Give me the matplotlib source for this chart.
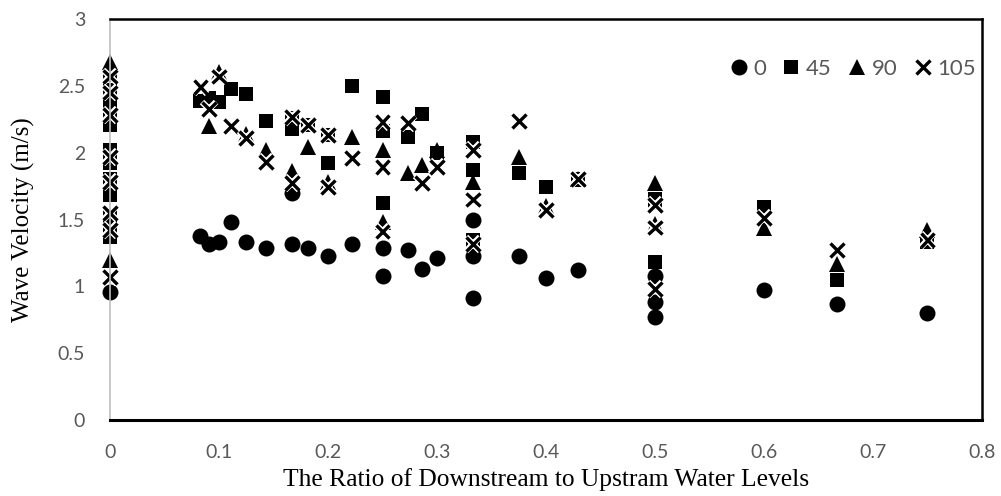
import matplotlib
matplotlib.use("Agg")
import matplotlib.pyplot as plt
import matplotlib.patheffects as pe

# ---- data ----
x0 = [0, 0.083, 0.091, 0.1, 0.111, 0.125, 0.143, 0.167, 0.167, 0.182, 0.2, 0.222,
      0.25, 0.25, 0.273, 0.286, 0.3, 0.333, 0.333, 0.333, 0.375, 0.4, 0.429,
      0.5, 0.5, 0.5, 0.6, 0.667, 0.75]
y0 = [0.96, 1.38, 1.32, 1.33, 1.48, 1.33, 1.29, 1.32, 1.70, 1.29, 1.23, 1.32,
      1.29, 1.08, 1.27, 1.13, 1.21, 1.50, 1.23, 0.91, 1.23, 1.06, 1.12,
      1.08, 0.88, 0.77, 0.97, 0.87, 0.80]

x45 = [0, 0, 0, 0, 0, 0, 0, 0, 0, 0, 0, 0,
       0.083, 0.091, 0.1, 0.111, 0.125, 0.143, 0.167, 0.167, 0.182, 0.2, 0.2, 0.222,
       0.25, 0.25, 0.25, 0.273, 0.286, 0.3, 0.333, 0.333, 0.333, 0.375, 0.4, 0.429,
       0.5, 0.5, 0.5, 0.6, 0.667, 0.75]
y45 = [2.58, 2.47, 2.37, 2.27, 2.21, 2.02, 1.92, 1.80, 1.68, 1.53, 1.43, 1.37,
       2.39, 2.41, 2.38, 2.48, 2.44, 2.24, 2.26, 2.18, 2.21, 2.13, 1.92, 2.50,
       2.42, 2.16, 1.62, 2.12, 2.29, 2.00, 2.08, 1.87, 1.35, 1.85, 1.74, 1.80,
       1.65, 1.62, 1.18, 1.59, 1.05, 1.33]

x90 = [0, 0, 0.091, 0.1, 0.125, 0.143, 0.167, 0.182, 0.2, 0.222, 0.25, 0.25,
       0.273, 0.286, 0.3, 0.333, 0.375, 0.4, 0.429, 0.5, 0.5, 0.6, 0.667, 0.75]
y90 = [2.68, 1.20, 2.20, 2.60, 2.14, 2.02, 1.86, 2.04, 1.78, 2.12, 2.02, 1.48,
       1.85, 1.91, 2.02, 1.78, 1.97, 1.60, 1.80, 1.77, 1.47, 1.44, 1.17, 1.42]

x105 = [0, 0, 0, 0, 0, 0, 0, 0,
        0.083, 0.091, 0.1, 0.111, 0.125, 0.143, 0.167, 0.167, 0.182, 0.2, 0.2, 0.222,
        0.25, 0.25, 0.25, 0.273, 0.286, 0.3, 0.333, 0.333, 0.333, 0.375, 0.4, 0.429,
        0.5, 0.5, 0.5, 0.6, 0.667, 0.75]
y105 = [2.57, 2.45, 2.28, 1.97, 1.78, 1.55, 1.42, 1.07,
        2.49, 2.33, 2.57, 2.20, 2.11, 1.93, 2.27, 1.77, 2.21, 2.13, 1.74, 1.96,
        2.23, 1.89, 1.41, 2.22, 1.77, 1.89, 2.02, 1.65, 1.32, 2.24, 1.57, 1.80,
        1.61, 1.44, 0.98, 1.51, 1.27, 1.35]

series_labels = ["0", "45", "90", "105"]
x_ticks = [0, 0.1, 0.2, 0.3, 0.4, 0.5, 0.6, 0.7, 0.8]
y_ticks = [0, 0.5, 1, 1.5, 2, 2.5, 3]

# ---- figure ----
fig = plt.figure(figsize=(10.01, 4.96), dpi=100)
ax = fig.add_axes([0.1099, 0.1532, 0.8711, 0.8085])

ax.plot(x0, y0, linestyle="none", marker="o", markersize=11.5, color="black",
        markeredgewidth=0, label=series_labels[0], clip_on=False)
ax.plot(x45, y45, linestyle="none", marker="s", markersize=10.5, color="black",
        markeredgewidth=0, label=series_labels[1], clip_on=False)
ax.plot(x90, y90, linestyle="none", marker="^", markersize=12, color="black",
        markeredgewidth=0, label=series_labels[2], clip_on=False)
ax.plot(x105, y105, linestyle="none", marker="x", markersize=10, color="black",
        markeredgewidth=2.4, label=series_labels[3], clip_on=False,
        path_effects=[pe.withStroke(linewidth=4.5, foreground="white")])

ax.set_xlim(0, 0.8)
ax.set_ylim(0, 3)
ax.set_xticks(x_ticks)
ax.set_xticklabels([f"{t:g}" for t in x_ticks])
ax.set_yticks(y_ticks)
ax.set_yticklabels([f"{t:g}" for t in y_ticks])

tick_color = "#595959"
ax.tick_params(axis="both", length=0, labelsize=14, labelcolor=tick_color)
ax.tick_params(axis="x", pad=17)
ax.tick_params(axis="y", pad=18)
for lab in ax.get_xticklabels() + ax.get_yticklabels():
    lab.set_fontfamily("Lato")

ax.spines["left"].set_color("#bfbfbf")
ax.spines["left"].set_linewidth(1.2)
ax.spines["bottom"].set_color("black")
ax.spines["bottom"].set_linewidth(2.2)
ax.spines["top"].set_color("black")
ax.spines["top"].set_linewidth(1.8)
ax.spines["right"].set_color("black")
ax.spines["right"].set_linewidth(1.8)
ax.set_axisbelow(False)

ax.set_xlabel("The Ratio of Downstream to Upstram Water Levels",
              fontfamily="Liberation Serif", fontsize=18.4, labelpad=5)
ax.set_ylabel("Wave Velocity (m/s)", fontfamily="Liberation Serif",
              fontsize=18, labelpad=16)

leg = ax.legend(loc="upper right", bbox_to_anchor=(1.011, 0.94), ncol=4,
                frameon=False, handlelength=0.8, handletextpad=0.25,
                columnspacing=0.75, borderaxespad=0.3,
                prop={"family": "Lato", "size": 16})
for t in leg.get_texts():
    t.set_color(tick_color)

fig.savefig("out.png", dpi=100)
